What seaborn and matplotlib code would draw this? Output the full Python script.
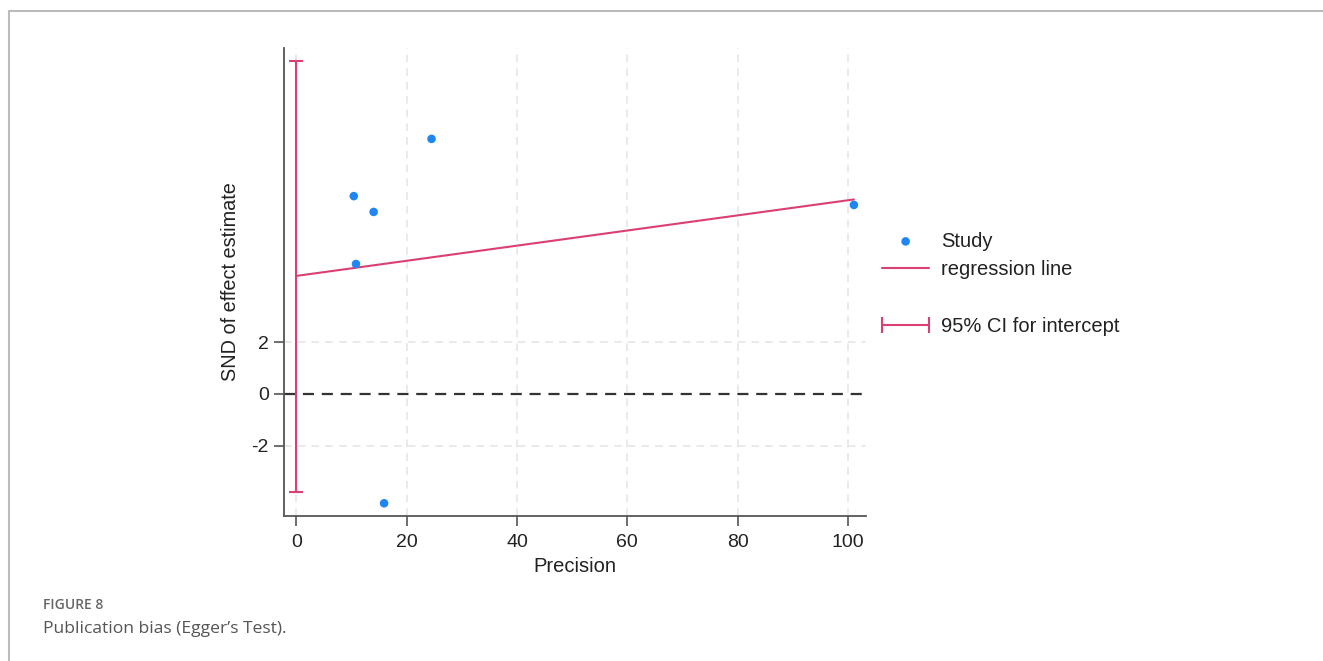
import matplotlib
matplotlib.use("Agg")
import matplotlib.pyplot as plt
from matplotlib.lines import Line2D
from matplotlib.legend_handler import HandlerLine2D
import numpy as np
import pandas as pd
import seaborn as sns

# Egger's regression: standard normal deviate vs precision
precision = [10.4, 14.0, 24.5, 10.8, 15.9, 101.1]
snd = [7.64, 7.03, 9.85, 5.02, -4.22, 7.30]

intercept = 4.56
slope = 0.0292
ci_low, ci_high = -3.77, 12.86

x_ticks = [0, 20, 40, 60, 80, 100]
y_ticks = [-2, 0, 2]

pink = "#dc3f74"
blue = "#1f86f2"
axis_grey = "#555555"

sns.set_theme(style="white")
plt.rcParams["font.family"] = ["Liberation Sans", "DejaVu Sans"]
plt.rcParams["axes.unicode_minus"] = False

fig = plt.figure(figsize=(13.23, 6.61), dpi=100)
ax = fig.add_axes([0.2146, 0.2194, 0.4400, 0.7080])

df = pd.DataFrame({"Precision": precision, "SND": snd})

# light dashed grid
for xv in x_ticks:
    ax.axvline(xv, color="#e4e4e4", lw=1.1, ls=(0, (5, 4)), zorder=0)
for yv in [-2, 2]:
    ax.axhline(yv, color="#e4e4e4", lw=1.1, ls=(0, (5, 4)), zorder=0)
ax.axhline(0, color="#333333", lw=1.6, ls=(0, (5, 3.5)), zorder=1)

# regression line
xr = np.array([0, max(precision)])
sns.lineplot(x=xr, y=intercept + slope * xr, color=pink, lw=1.5, ax=ax, zorder=2)

# CI for intercept
ax.errorbar([0], [(ci_low + ci_high) / 2], yerr=[[(ci_high - ci_low) / 2]],
            fmt="none", ecolor=pink, elinewidth=1.5, capsize=5, capthick=1.5, zorder=2)

sns.scatterplot(data=df, x="Precision", y="SND", color=blue, s=38,
                edgecolor="none", ax=ax, zorder=3)

ax.set_xlim(-2.27, 103.3)
ax.set_ylim(-4.71, 13.36)
ax.set_xticks(x_ticks)
ax.set_yticks(y_ticks)
ax.set_xlabel("Precision", fontsize=14.5, color="#222222", labelpad=4)
ax.set_ylabel("SND of effect estimate", fontsize=14.3, color="#222222", labelpad=8)
ax.tick_params(axis="both", labelsize=14, colors=axis_grey, labelcolor="#222222",
               length=7, width=1.2, direction="out", left=True, bottom=True, pad=4)
ax.tick_params(axis="x", pad=6)
for side in ["top", "right"]:
    ax.spines[side].set_visible(False)
for side in ["left", "bottom"]:
    ax.spines[side].set_color(axis_grey)
    ax.spines[side].set_linewidth(1.3)

study_handle = ax.scatter([], [], color=blue, s=38, edgecolor="none")
handles = [
    study_handle,
    Line2D([], [], color=pink, lw=1.5),
    Line2D([], [], alpha=0),
    Line2D([], [], color=pink, lw=1.5, marker="|", markersize=11, markeredgewidth=1.5),
]
labels = ["Study", "regression line", " ", "95% CI for intercept"]
leg = fig.legend(handles, labels, loc="upper left", bbox_to_anchor=(0.6667, 0.6495),
                 frameon=False, fontsize=14.5, numpoints=2, scatterpoints=1,
                 handlelength=2.34, handletextpad=0.6, labelspacing=0.47,
                 borderpad=0, borderaxespad=0,
                 handler_map={Line2D: HandlerLine2D(marker_pad=0)})
for t in leg.get_texts():
    t.set_color("#222222")

# figure caption
fig.text(0.0325, 0.078, "FIGURE 8", fontsize=10, color="#666666",
         family=["Open Sans", "DejaVu Sans"], fontweight="semibold")
fig.text(0.0325, 0.043, "Publication bias (Egger\u2019s Test).", fontsize=12.6,
         color="#555555", family=["Open Sans", "DejaVu Sans"])

# frame lines on top and left
fig.add_artist(Line2D([0.007, 1.0], [0.983, 0.983], color="#bbbbbb", lw=1.5,
                      transform=fig.transFigure))
fig.add_artist(Line2D([0.007, 0.007], [0.0, 0.983], color="#bbbbbb", lw=1.5,
                      transform=fig.transFigure))

fig.savefig("out.png", dpi=100)
